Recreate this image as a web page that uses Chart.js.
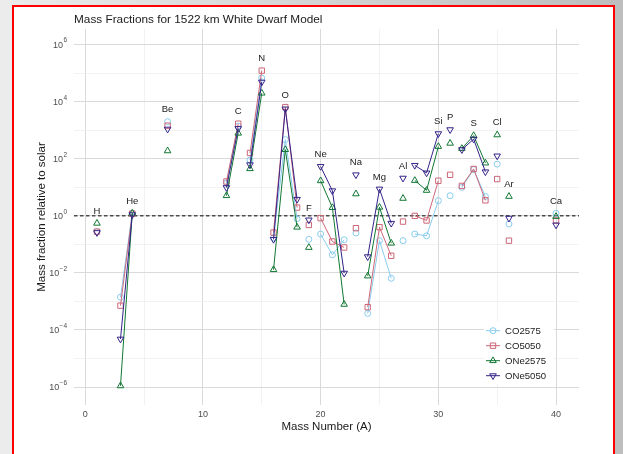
<!DOCTYPE html>
<html>
<head>
<meta charset="utf-8">
<script src="https://cdn.jsdelivr.net/npm/chart.js@4.4.0/dist/chart.umd.min.js"></script>
<style>
  html, body { margin: 0; padding: 0; }
  body { width: 623px; height: 454px; overflow: hidden; position: relative;
         background: linear-gradient(to right, #ececec, #bdbdbd); }
  #frame { position: absolute; left: 12px; top: 5px; width: 599px; height: 470px;
           background: #fff; border: 2px solid #ff0000; }
  #c { position: absolute; left: 0; top: 0; }
</style>
</head>
<body>
<div id="frame"></div>
<canvas id="c" width="623" height="454"></canvas>
<script>
// ------- Data -------
const massNumbers = [1, 3, 4, 7, 12, 13, 14, 15, 16, 17, 18, 19, 20, 21, 22, 23, 24, 25, 26, 27, 28, 29, 30, 31, 32, 33, 34, 35, 36, 40];
const elements = ["H", "He", "He", "Be", "C", "C", "N", "N", "O", "O", "O", "F", "Ne", "Ne", "Ne", "Na",
                  "Mg", "Mg", "Mg", "Al", "Si", "Si", "Si", "P", "S", "S", "S", "Cl", "Ar", "Ca"];

const co2575 = [0.28, 1.4e-3, 1.25, 2.0e3, 14, 1.4e3, 91, 6.8e4, 0.17, 470, 0.8, 0.15, 0.23, 0.043, 0.145, 0.25,
                3.8e-4, 0.135, 6.5e-3, 0.135, 0.23, 0.2, 3.4, 5.1, 10, 42, 4.8, 65, 0.52, 1.23];
const co5050 = [0.28, 7.1e-4, 1.2, 1.45e3, 16, 1.7e3, 160, 1.23e5, 0.26, 6.5e3, 1.95, 0.48, 0.83, 0.126, 0.078, 0.37,
                6.3e-4, 0.40, 0.040, 0.63, 1.0, 0.69, 17, 27.5, 11.2, 44, 3.5, 19.5, 0.135, 0.69];
const one2575 = [0.55, 1.1e-6, 1.25, 190, 5.1, 790, 45, 2.0e4, 0.013, 210, 0.40, 0.078, 17, 1.95, 7.9e-4, 5.9,
                 7.8e-3, 2.0, 0.11, 4.1, 17.4, 7.8, 270, 350, 230, 650, 71, 690, 4.8, 0.95];
const one5050 = [0.26, 4.8e-5, 1.1, 1.1e3, 9.8, 1.15e3, 62, 4.9e4, 0.15, 5.6e3, 3.8, 0.72, 54, 7.6, 9.8e-3, 27.5,
                 0.037, 8.7, 0.55, 21, 59, 32, 760, 1050, 210, 490, 35, 126, 0.83, 0.48];

const seriesNames = ["CO2575", "CO5050", "ONe2575", "ONe5050"];
const seriesValues = [co2575, co5050, one2575, one5050];

const xTickValues = [0, 5, 10, 15, 20, 25, 30, 35, 40];
const yTickExponents = [-6, -5, -4, -3, -2, -1, 0, 1, 2, 3, 4, 5, 6];

// ------- Styles -------
const colors = ["#88CCEE", "#CC6677", "#117733", "#332288"];
const markers = [
  { style: "circle", rotation: 0, radius: 3 },
  { style: "rect", rotation: 0, radius: 3.8 },
  { style: "triangle", rotation: 0, radius: 3.8 },
  { style: "triangle", rotation: 180, radius: 3.8 },
];
const FONT = "'Liberation Sans', Arial, Helvetica, sans-serif";
const MAJOR = "#dadada";
const MINOR = "#ececec";

// ------- Helpers -------
function marker(ctx, k, x, y) {
  const m = markers[k];
  ctx.save();
  ctx.strokeStyle = colors[k];
  ctx.fillStyle = "rgba(0,0,0,0)";
  ctx.lineWidth = 1;
  Chart.helpers.drawPoint(ctx, { pointStyle: m.style, rotation: m.rotation, radius: m.radius, borderWidth: 1 }, x, y);
  ctx.restore();
}

const decorations = {
  id: "decorations",
  beforeDatasetsDraw(chart) {
    const { ctx, chartArea, scales } = chart;
    const y1 = scales.y.getPixelForValue(1);
    ctx.save();
    ctx.strokeStyle = "#000";
    ctx.lineWidth = 1;
    ctx.setLineDash([3.5, 2.5]);
    ctx.beginPath();
    ctx.moveTo(chartArea.left, y1);
    ctx.lineTo(chartArea.right, y1);
    ctx.stroke();
    ctx.restore();
  },
  afterDraw(chart) {
    const { ctx, chartArea, scales } = chart;
    ctx.save();

    // title
    ctx.fillStyle = "#1a1a1a";
    ctx.font = `11.8px ${FONT}`;
    ctx.textBaseline = "middle";
    ctx.textAlign = "left";
    ctx.fillText("Mass Fractions for 1522 km White Dwarf Model", 74, 19.5);

    // axis titles
    ctx.font = `11.5px ${FONT}`;
    ctx.textAlign = "center";
    ctx.fillText("Mass Number (A)", (chartArea.left + chartArea.right) / 2, 427);
    ctx.save();
    ctx.translate(42, (chartArea.top + chartArea.bottom) / 2);
    ctx.rotate(-Math.PI / 2);
    ctx.fillText("Mass fraction relative to solar", 0, 0);
    ctx.restore();

    // y tick labels 10^n
    ctx.fillStyle = "#4d4d4d";
    yTickExponents.filter((e) => e % 2 === 0).forEach((e) => {
      const py = scales.y.getPixelForValue(Math.pow(10, e));
      const exp = e < 0 ? "\u2212" + Math.abs(e) : String(e);
      ctx.font = `6.5px ${FONT}`;
      const ew = ctx.measureText(exp).width;
      const right = chartArea.left - 7;
      ctx.textAlign = "right";
      ctx.fillText(exp, right, py - 4);
      ctx.font = `9px ${FONT}`;
      ctx.fillText("10", right - ew - 0.3, py + 0.5);
    });

    // element labels above highest point of each element
    ctx.fillStyle = "#1a1a1a";
    ctx.font = `9.5px ${FONT}`;
    ctx.textAlign = "center";
    const seen = {};
    elements.forEach((el, i) => {
      seriesValues.forEach((vals) => {
        if (!seen[el] || vals[i] > seen[el].v) seen[el] = { v: vals[i], a: massNumbers[i] };
      });
    });
    Object.keys(seen).forEach((el) => {
      const px = scales.x.getPixelForValue(seen[el].a);
      const py = scales.y.getPixelForValue(seen[el].v);
      ctx.fillText(el, px, py - 12);
    });

    // legend
    ctx.fillStyle = "#fff";
    ctx.fillRect(484, 322, 70, 62);
    seriesNames.forEach((name, k) => {
      const ly = 330.7 + k * 15;
      ctx.strokeStyle = colors[k];
      ctx.lineWidth = 1;
      ctx.beginPath();
      ctx.moveTo(486, ly);
      ctx.lineTo(500, ly);
      ctx.stroke();
      marker(ctx, k, 493, ly);
      ctx.fillStyle = "#1a1a1a";
      ctx.font = `9.6px ${FONT}`;
      ctx.textAlign = "left";
      ctx.fillText(name, 505, ly + 0.5);
    });
    ctx.restore();
  },
};

// ------- Chart -------
const datasets = seriesNames.map((name, k) => ({
  label: name,
  data: massNumbers.map((a, i) => ({ x: a, y: seriesValues[k][i] })),
  borderColor: colors[k],
  backgroundColor: "rgba(0,0,0,0)",
  borderWidth: 1,
  pointStyle: markers[k].style,
  pointRotation: markers[k].rotation,
  pointRadius: markers[k].radius,
  pointBorderWidth: 1,
  pointBorderColor: colors[k],
  pointBackgroundColor: "rgba(0,0,0,0)",
  tension: 0,
  order: seriesNames.length - k,
  segment: {
    borderColor: (c) => (elements[c.p0DataIndex] === elements[c.p1DataIndex] ? colors[k] : "rgba(0,0,0,0)"),
  },
}));

new Chart(document.getElementById("c"), {
  type: "line",
  data: { datasets },
  plugins: [decorations],
  options: {
    responsive: false,
    animation: false,
    layout: { padding: { left: 0, top: 29, right: 44, bottom: 0 } },
    plugins: { legend: { display: false }, tooltip: { enabled: false }, title: { display: false } },
    scales: {
      x: {
        type: "linear",
        min: -0.95,
        max: 41.95,
        afterBuildTicks: (axis) => { axis.ticks = xTickValues.map((v) => ({ value: v })); },
        afterFit: (s) => { s.height = 49; },
        ticks: {
          autoSkip: false,
          maxRotation: 0,
          padding: 4,
          color: "#4d4d4d",
          font: { family: FONT, size: 9 },
          callback: (v) => (v % 10 === 0 ? String(v) : ""),
        },
        grid: {
          drawTicks: false,
          color: (c) => (c.tick && c.tick.value % 10 === 0 ? MAJOR : MINOR),
          lineWidth: (c) => (c.tick && c.tick.value % 10 === 0 ? 1 : 0.7),
        },
        border: { display: false },
      },
      y: {
        type: "logarithmic",
        min: Math.pow(10, -6.63),
        max: Math.pow(10, 6.55),
        afterBuildTicks: (axis) => { axis.ticks = yTickExponents.map((e) => ({ value: Math.pow(10, e) })); },
        afterFit: (s) => { s.width = 74; },
        ticks: { display: false },
        grid: {
          drawTicks: false,
          color: (c) => (c.tick && Math.round(Math.log10(c.tick.value)) % 2 === 0 ? MAJOR : MINOR),
          lineWidth: (c) => (c.tick && Math.round(Math.log10(c.tick.value)) % 2 === 0 ? 1 : 0.7),
        },
        border: { display: false },
      },
    },
  },
});
</script>
</body>
</html>
